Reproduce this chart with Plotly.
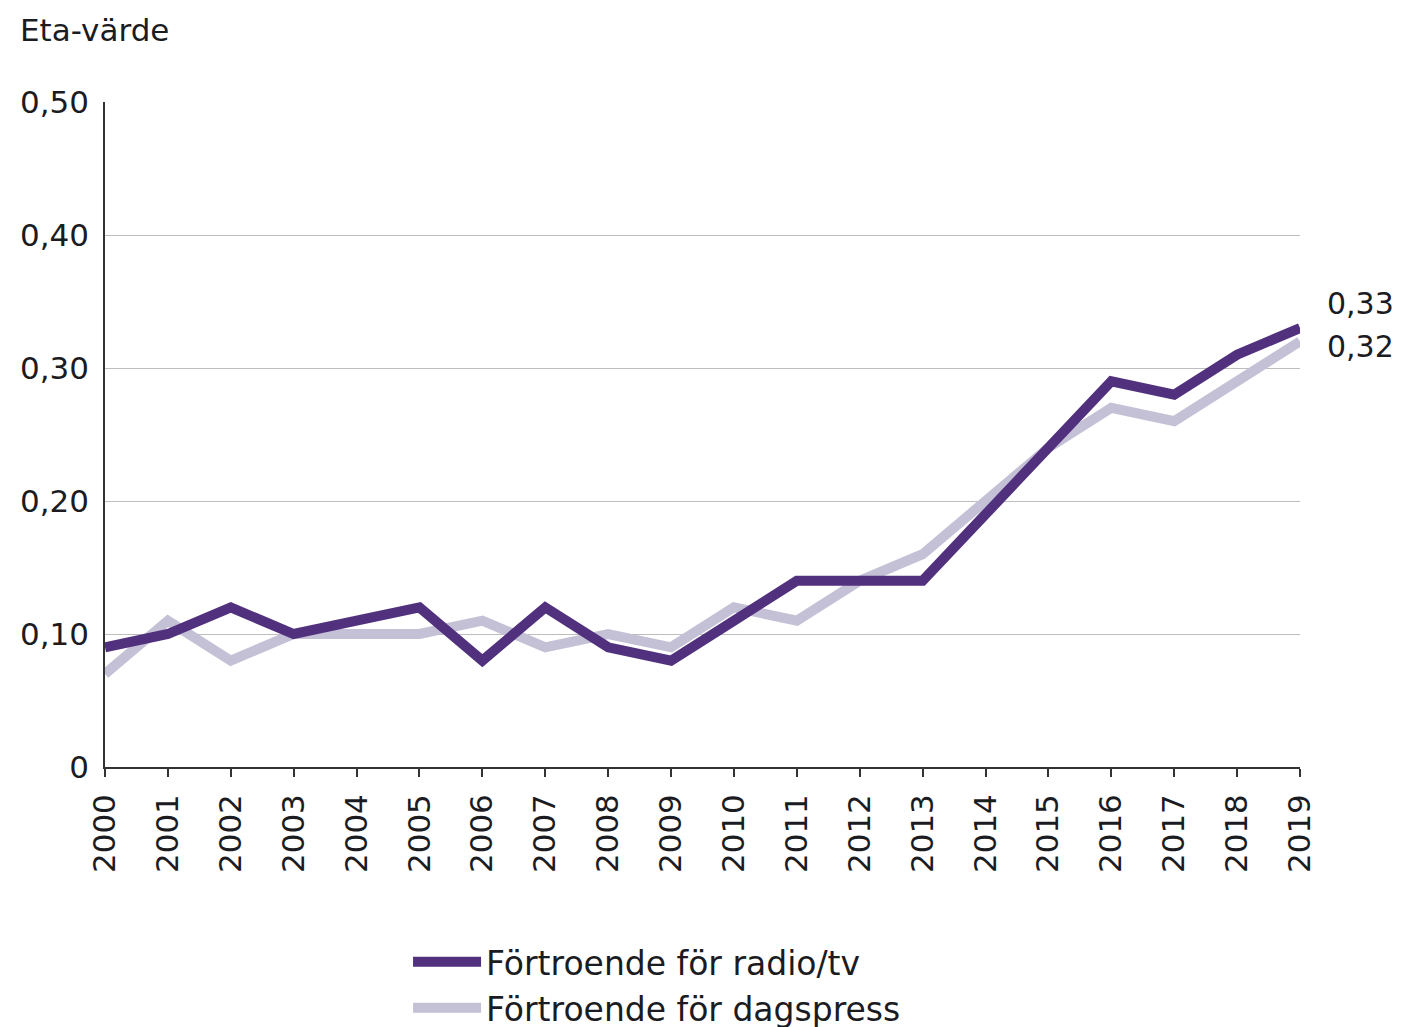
import plotly.graph_objects as go

years = list(range(2000, 2020))
radio_tv = [0.09, 0.10, 0.12, 0.10, 0.11, 0.12, 0.08, 0.12, 0.09, 0.08,
            0.11, 0.14, 0.14, 0.14, 0.19, 0.24, 0.29, 0.28, 0.31, 0.33]
dagspress = [0.07, 0.11, 0.08, 0.10, 0.10, 0.10, 0.11, 0.09, 0.10, 0.09,
             0.12, 0.11, 0.14, 0.16, 0.20, 0.24, 0.27, 0.26, 0.29, 0.32]
y_tickvals = [0, 0.1, 0.2, 0.3, 0.4, 0.5]
y_ticktext = ["0", "0,10", "0,20", "0,30", "0,40", "0,50"]
names = ["Förtroende för radio/tv", "Förtroende för dagspress"]
end_labels = ["0,33", "0,32"]

PURPLE = "#51317D"
GREY = "#C4C1D7"
TXT = "#1b1b22"
FONT = "DejaVu Sans"

fig = go.Figure()
fig.add_trace(go.Scatter(x=years, y=dagspress, mode="lines", name=names[1],
                         line=dict(color=GREY, width=10), legendrank=2))
fig.add_trace(go.Scatter(x=years, y=radio_tv, mode="lines", name=names[0],
                         line=dict(color=PURPLE, width=10), legendrank=1))

fig.add_annotation(x=years[-1], y=radio_tv[-1], text=end_labels[0], showarrow=False,
                   xanchor="left", yanchor="middle", xshift=25, yshift=25,
                   font=dict(size=30, color=TXT, family=FONT))
fig.add_annotation(x=years[-1], y=dagspress[-1], text=end_labels[1], showarrow=False,
                   xanchor="left", yanchor="middle", xshift=25, yshift=-5,
                   font=dict(size=30, color=TXT, family=FONT))
fig.add_annotation(xref="paper", yref="paper", x=-0.073, y=1.138, text="Eta-värde",
                   showarrow=False, xanchor="left", yanchor="top",
                   font=dict(size=31, color=TXT, family=FONT))

fig.update_layout(
    width=1404, height=1027,
    margin=dict(l=97, r=112, t=94, b=268, autoexpand=False),
    paper_bgcolor="white", plot_bgcolor="white",
    font=dict(family=FONT, color=TXT, size=31),
    showlegend=True,
    legend=dict(orientation="v", x=0.2536, y=-0.251, xanchor="left", yanchor="top",
                traceorder="normal", font=dict(size=33, color=TXT, family=FONT),
                itemwidth=68, tracegroupgap=0, bgcolor="rgba(0,0,0,0)"),
)
fig.update_xaxes(range=[2000, 2019], tickvals=years, ticktext=[str(y) for y in years],
                 tickangle=-90, ticks="outside", ticklen=8, tickwidth=1.5,
                 tickcolor="#333", showline=True, linecolor="#333", linewidth=1.5,
                 showgrid=False, zeroline=False, automargin=False,
                 ticklabelstandoff=5,
                 tickfont=dict(size=31, color=TXT, family=FONT))
fig.update_yaxes(range=[0, 0.5], tickvals=y_tickvals, ticktext=y_ticktext,
                 showline=True, linecolor="#333", linewidth=1.5,
                 showgrid=True, gridcolor="#BDBDBD", gridwidth=1, zeroline=False,
                 ticks="", ticklabelstandoff=8, automargin=False,
                 tickfont=dict(size=31, color=TXT, family=FONT))

fig.write_html("out.html")
